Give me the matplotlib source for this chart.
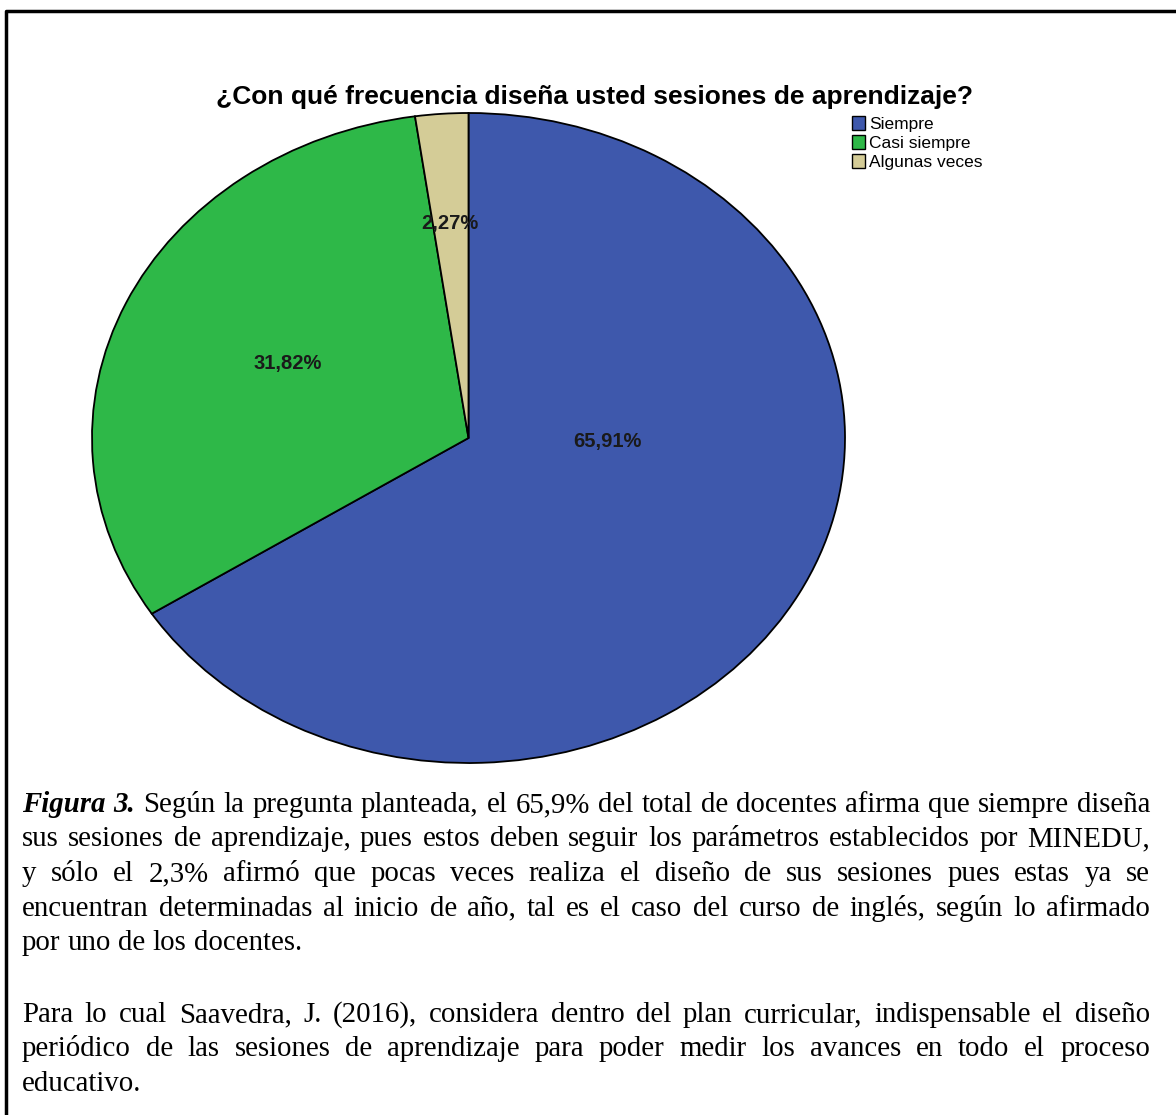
import matplotlib
matplotlib.use('Agg')
import matplotlib.pyplot as plt
from matplotlib.patches import Patch
from matplotlib.lines import Line2D

W, H = 1176, 1115

TITLE = '¿Con qué frecuencia diseña usted sesiones de aprendizaje?'
CATEGORIES = ['Siempre', 'Casi siempre', 'Algunas veces']
PERCENTS = [65.91, 31.82, 2.27]
COLORS = ['#3E58AC', '#2EB848', '#D4CC97']

# caption lines (justified except the last line of each paragraph)
CAPTION_1 = [
    'Según la pregunta planteada, el 65,9% del total de docentes afirma que siempre diseña',
    'sus sesiones de aprendizaje, pues estos deben seguir los parámetros establecidos por MINEDU,',
    'y sólo el 2,3% afirmó que pocas veces realiza el diseño de sus sesiones pues estas ya se',
    'encuentran determinadas al inicio de año, tal es el caso del curso de inglés, según lo afirmado',
    'por uno de los docentes.',
]
CAPTION_2 = [
    'Para lo cual Saavedra, J. (2016), considera dentro del plan curricular, indispensable el diseño',
    'periódico de las sesiones de aprendizaje para poder medir los avances en todo el proceso',
    'educativo.',
]
FIG_LABEL = 'Figura 3.'

# label positions inside the (elliptic) pie, in axes data units
LABEL_POS = [(0.37, -0.01), (-0.48, 0.23), (-0.05, 0.66)]


def fx(x):
    return x / W


def fy(y):
    return 1 - y / H


fig = plt.figure(figsize=(W / 100, H / 100), dpi=100)
fig.patch.set_facecolor('white')

# frame of the document box (left and top sides visible)
fig.add_artist(Line2D([fx(6), fx(6), fx(W)], [fy(H), fy(11), fy(11)],
                      color='black', lw=2.5, transform=fig.transFigure))

# pie, stretched to an ellipse like the original
ax = fig.add_axes([fx(92), fy(763), fx(845) - fx(92), fy(113) - fy(763)])
wedges, texts, autotexts = ax.pie(
    PERCENTS, colors=COLORS, startangle=90, counterclock=False,
    autopct=lambda p: f'{p:.2f}%'.replace('.', ','),
    wedgeprops=dict(edgecolor='black', linewidth=1.3),
    textprops=dict(fontsize=14.5, fontweight='bold', family='Liberation Sans'))
ax.set_aspect('auto')
ax.set_xlim(-1, 1)
ax.set_ylim(-1, 1)
ax.axis('off')
for t, pos in zip(autotexts, LABEL_POS):
    t.set_position(pos)
    t.set_color('#1a1a1a')

fig.text(fx(595), fy(104), TITLE, ha='center', va='baseline',
         fontsize=19, fontweight='bold', family='Liberation Sans')

handles = [Patch(facecolor=c, edgecolor='black', linewidth=1) for c in COLORS]
fig.legend(handles, CATEGORIES, loc='upper left', bbox_to_anchor=(fx(843), fy(107)),
           frameon=False, handlelength=0.75, handleheight=0.85, handletextpad=0.25,
           labelspacing=0.2, borderpad=0, prop=dict(family='Liberation Sans', size=12.5))

# justified caption
renderer = fig.canvas.get_renderer()
X0, X1 = 22, 1150
SIZE = 20.8


def put_line(words, y, justify):
    arts = []
    for w, style in words:
        t = fig.text(0, fy(y), w, va='baseline', ha='left', fontsize=SIZE,
                     family='Liberation Serif', fontweight='bold' if style else 'normal',
                     fontstyle='italic' if style else 'normal')
        arts.append(t)
    widths = [a.get_window_extent(renderer).width for a in arts]
    if justify and len(arts) > 1:
        gap = (X1 - X0 - sum(widths)) / (len(arts) - 1)
    else:
        gap = SIZE * 1.389 * 0.25
    x = X0
    for a, wd in zip(arts, widths):
        a.set_x(fx(x))
        x += wd + gap


y = 812
for i, line in enumerate(CAPTION_1):
    words = [(w, False) for w in line.split()]
    if i == 0:
        words = [(w, True) for w in FIG_LABEL.split()] + words
    put_line(words, y, i < len(CAPTION_1) - 1)
    y += 34.5

y = 1022
for i, line in enumerate(CAPTION_2):
    put_line([(w, False) for w in line.split()], y, i < len(CAPTION_2) - 1)
    y += 34.5

fig.savefig('out.png', dpi=100)
